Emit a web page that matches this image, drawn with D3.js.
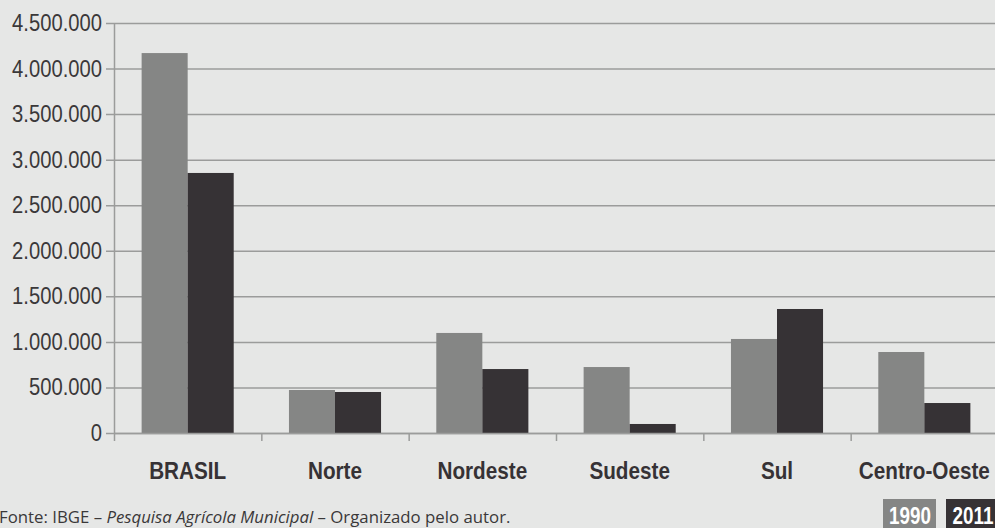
<!DOCTYPE html>
<html>
<head>
<meta charset="utf-8">
<script src="https://cdn.jsdelivr.net/npm/d3@7"></script>
<style>
  html, body { margin: 0; padding: 0; background: #e6e7e6; }
  svg { display: block; }
</style>
</head>
<body>
<svg id="chart" width="995" height="528"></svg>
<script>
// data
const regioes = ["BRASIL", "Norte", "Nordeste", "Sudeste", "Sul", "Centro-Oeste"];
const anos = ["1990", "2011"];
const valores1990 = [4170000, 472000, 1098000, 724000, 1032000, 889000];
const valores2011 = [2854000, 450000, 702000, 99000, 1361000, 329000];
const yTicks = [0, 500000, 1000000, 1500000, 2000000, 2500000, 3000000, 3500000, 4000000, 4500000];
const fonte = "Fonte: IBGE – ";
const fonteItalico = "Pesquisa Agrícola Municipal";
const fonteFim = " – Organizado pelo autor.";

const cores = {"1990": "#858685", "2011": "#363235"};
const serie = {"1990": valores1990, "2011": valores2011};

const svg = d3.select("#chart");
const W = +svg.attr("width"), H = +svg.attr("height");

const mLeft = 114, mRight = 998, mTop = 23, mBottom = 433;

let x0 = d3.scaleBand()
    .domain(regioes)
    .range([mLeft, mRight])
    .paddingInner(0.375)
    .paddingOuter(0.1875);
let x1 = d3.scaleBand()
    .domain(anos)
    .range([0, x0.bandwidth()]);
let y = d3.scaleLinear()
    .domain([0, 4500000])
    .range([mBottom, mTop]);

let fmt = d => d3.format(",")(d).replace(/,/g, ".");

//gridlines
svg.append("g").selectAll("line")
    .data(yTicks)
    .enter().append("line")
    .attr("x1", mLeft - 8)
    .attr("x2", W)
    .attr("y1", d => y(d) + 0.5)
    .attr("y2", d => y(d) + 0.5)
    .attr("stroke", "#9b9c9b")
    .attr("stroke-width", 1.5);

//y labels
svg.append("g").selectAll("text")
    .data(yTicks)
    .enter().append("text")
    .attr("transform", d => "translate(102," + (y(d) + 8) + ") scale(0.86,1)")
    .attr("text-anchor", "end")
    .attr("font-family", "Liberation Sans, Arial, sans-serif")
    .attr("font-size", 23.5)
    .attr("fill", "#3a3839")
    .text(fmt);

//bars
let grupos = svg.append("g").selectAll("g")
    .data(regioes)
    .enter().append("g")
    .attr("transform", d => "translate(" + x0(d) + ",0)");
grupos.selectAll("rect")
    .data((d, i) => anos.map(a => ({ano: a, v: serie[a][i]})))
    .enter().append("rect")
    .attr("x", d => x1(d.ano))
    .attr("width", x1.bandwidth())
    .attr("y", d => y(d.v))
    .attr("height", d => mBottom - y(d.v))
    .attr("fill", d => cores[d.ano]);

//axes
let step = x0.step();
svg.append("line")
    .attr("x1", mLeft + 0.5).attr("x2", mLeft + 0.5)
    .attr("y1", mTop).attr("y2", mBottom + 8)
    .attr("stroke", "#9b9c9b").attr("stroke-width", 1.5);
svg.append("line")
    .attr("x1", mLeft).attr("x2", W)
    .attr("y1", mBottom + 0.5).attr("y2", mBottom + 0.5)
    .attr("stroke", "#9b9c9b").attr("stroke-width", 1.5);
svg.append("g").selectAll("line")
    .data(regioes)
    .enter().append("line")
    .attr("x1", d => x0(d) - step * 0.1875 + step + 0.5)
    .attr("x2", d => x0(d) - step * 0.1875 + step + 0.5)
    .attr("y1", mBottom)
    .attr("y2", mBottom + 8)
    .attr("stroke", "#9b9c9b").attr("stroke-width", 1.5);

//category labels
svg.append("g").selectAll("text")
    .data(regioes)
    .enter().append("text")
    .attr("transform", d => "translate(" + (x0(d) + x0.bandwidth() / 2) + ",479) scale(0.9,1)")
    .attr("text-anchor", "middle")
    .attr("font-family", "Liberation Sans, Arial, sans-serif")
    .attr("font-weight", "bold")
    .attr("font-size", 23)
    .attr("fill", "#363235")
    .text(d => d);

//source
let src = svg.append("text")
    .attr("x", -1)
    .attr("y", 523)
    .attr("font-family", "Open Sans, sans-serif")
    .attr("font-size", 16.8)
    .attr("fill", "#3a3839");
src.append("tspan").text(fonte);
src.append("tspan").attr("font-style", "italic").text(fonteItalico);
src.append("tspan").text(fonteFim);

//legend
let leg = [{ano: "1990", x: 883, w: 53}, {ano: "2011", x: 946, w: 55}];
let lg = svg.append("g").selectAll("g")
    .data(leg)
    .enter().append("g");
lg.append("rect")
    .attr("x", d => d.x)
    .attr("y", 499)
    .attr("width", d => d.w)
    .attr("height", 30)
    .attr("fill", d => cores[d.ano]);
lg.append("text")
    .attr("transform", d => "translate(" + (d.x + 27) + ",524) scale(0.82,1)")
    .attr("text-anchor", "middle")
    .attr("font-family", "Liberation Sans, Arial, sans-serif")
    .attr("font-weight", "bold")
    .attr("font-size", 23)
    .attr("fill", "#ffffff")
    .text(d => d.ano);
</script>
</body>
</html>
